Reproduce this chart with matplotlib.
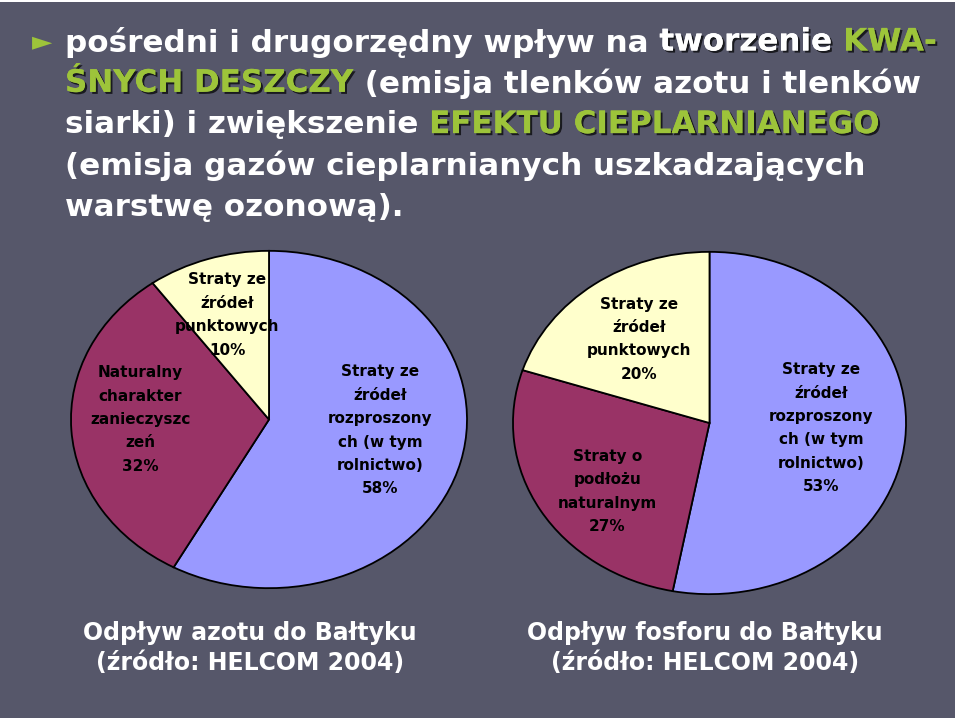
import matplotlib
matplotlib.use("Agg")
import matplotlib.pyplot as plt
import matplotlib.patheffects as pe
from matplotlib.patches import Rectangle

# ---- data ----
azot_labels = ["Straty ze\nźródeł\nrozproszony\nch (w tym\nrolnictwo)\n58%",
               "Naturalny\ncharakter\nzanieczyszc\nzeń\n32%",
               "Straty ze\nźródeł\npunktowych\n10%"]
azot_values = [58, 32, 10]
fosfor_labels = ["Straty ze\nźródeł\nrozproszony\nch (w tym\nrolnictwo)\n53%",
                 "Straty o\npodłożu\nnaturalnym\n27%",
                 "Straty ze\nźródeł\npunktowych\n20%"]
fosfor_values = [53, 27, 20]
pie_colors = ["#9999ff", "#993366", "#ffffcc"]
captions = ["Odpływ azotu do Bałtyku\n(źródło: HELCOM 2004)",
            "Odpływ fosforu do Bałtyku\n(źródło: HELCOM 2004)"]

GREEN = "#9dc43a"
WHITE = "white"
title_lines = [
    [("pośredni i drugorzędny wpływ na ", WHITE), ("tworzenie", WHITE, True), (" ", WHITE), ("KWA-", GREEN)],
    [("ŚNYCH DESZCZY", GREEN), (" (emisja tlenków azotu i tlenków", WHITE)],
    [("siarki) i zwiększenie ", WHITE), ("EFEKTU CIEPLARNIANEGO", GREEN)],
    [("(emisja gazów cieplarnianych uszkadzających", WHITE)],
    [("warstwę ozonową).", WHITE)],
]

W, H = 960, 721
BG = "#56576a"

fig = plt.figure(figsize=(W / 100, H / 100), dpi=100)
fig.patch.set_facecolor("white")
fig.patches.append(Rectangle((0, 3 / H), 955 / W, 1 - 5 / H, transform=fig.transFigure,
                             facecolor=BG, edgecolor="none", zorder=-10))

TFONT = "DejaVu Sans"
TSIZE = 22.3


def px(x, y):
    return x / W, 1 - y / H


# title block, drawn segment by segment to get the coloured words
fig.canvas.draw()
renderer = fig.canvas.get_renderer()
shadow = [pe.withSimplePatchShadow(offset=(1.5, -1.5), shadow_rgbFace="black", alpha=0.7), pe.Normal()]


def text_width(s):
    t = fig.text(0, 0, s, fontsize=TSIZE, fontweight="bold", family=TFONT)
    w = t.get_window_extent(renderer).width
    t.remove()
    return w


x0 = 65
for i, line in enumerate(title_lines):
    y = 42 + i * 41.3
    prefix = ""
    for seg in line:
        s, c = seg[0], seg[1]
        xoff = text_width(prefix + "x") - text_width("x") if prefix else 0
        eff = shadow if (c == GREEN or len(seg) > 2) else None
        if s.strip():
            fig.text(*px(x0 + xoff, y), s, fontsize=TSIZE, fontweight="bold", family=TFONT,
                     color=c, va="center", ha="left", path_effects=eff)
        prefix += s

fig.text(*px(32, 42), "►", fontsize=19, color=GREEN, va="center", ha="left", family="DejaVu Sans")


def draw_pie(box, values, labels, label_pos):
    left, top, right, bottom = box
    ax = fig.add_axes([left / W, 1 - bottom / H, (right - left) / W, (bottom - top) / H])
    ax.pie(values, colors=pie_colors, startangle=90, counterclock=False, radius=1,
           wedgeprops=dict(edgecolor="black", linewidth=1.3))
    ax.set_aspect("auto")
    ax.set_xlim(-1.005, 1.005)
    ax.set_ylim(-1.005, 1.005)
    for lab, (lx, ly) in zip(labels, label_pos):
        ax.text(lx, ly, lab, ha="center", va="center", fontsize=11, fontweight="bold",
                family="DejaVu Sans", color="black", linespacing=1.7)
    return ax


draw_pie((70, 250, 468, 589), azot_values, azot_labels,
         [(0.56, -0.065), (-0.65, 0.0), (-0.21, 0.62)])
draw_pie((512, 251, 907, 595), fosfor_values, fosfor_labels,
         [(0.57, -0.03), (-0.52, -0.40), (-0.36, 0.49)])

for cx, cap in zip([250, 705], captions):
    fig.text(*px(cx, 648), cap, ha="center", va="center", fontsize=17, fontweight="bold",
             family=TFONT, color="white", linespacing=1.35)

fig.savefig("out.png", dpi=100, facecolor=fig.get_facecolor())
